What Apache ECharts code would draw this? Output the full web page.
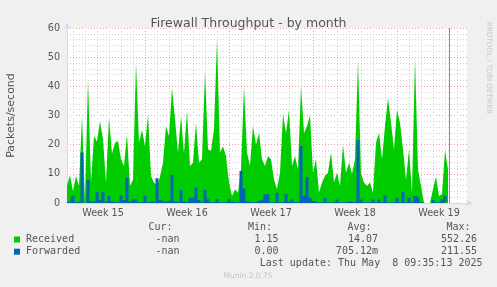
<!DOCTYPE html>
<html>
<head>
<meta charset="utf-8">
<script src="https://cdn.jsdelivr.net/npm/echarts@6/dist/echarts.min.js"></script>
<style>
html,body{margin:0;padding:0;background:#F0F0F0;}
#c{width:497px;height:287px;}
</style>
</head>
<body>
<div id="c"></div>
<script>
// ---- data ----
// samples every 6 hours from the left edge of the month graph
var stepDays = 0.25;
var received = [6,9.5,4,9.3,5.8,29.8,0.5,42.4,7,23,21,28,21.8,7,29.3,17,20.7,21.3,15,12.7,
23.5,5.8,8,48,20.7,25,19.5,30.4,9.3,7,5.8,9,13.8,26.4,23,39.5,28.7,17.3,29.8,17,
31.5,12.7,13.8,27.5,13.8,15,45,18.4,17.8,25.3,56,17.3,19.5,16,7,2.4,4.7,3.5,11.5,40,
17.3,12.7,26.4,20,24,15,12.7,16,15,8,4.7,10.4,30.4,24,32,12.7,16,11.5,40,24,
26.4,30,10.4,15,3.5,7,9.3,10.4,17.3,7,10.4,5.8,20,10.4,13.8,10,15,49,10,7,
5.8,7,3.5,20.7,24,15,26.4,36,27.5,18.4,32,27.5,18.4,8,18.4,3.5,49.8,11.5,5.8,0,
0,0,4.7,9,2.4,3,18,11.5];
var forwarded = [0.5,0.3,2.6,0.3,0.5,17.3,0,7.9,0.5,0.5,3.9,1,3.8,0.5,2.4,0.5,0.3,0.3,2.6,1,
8.7,0.5,1.2,1.2,0.3,0.3,2.4,0.3,0.7,0.2,8.5,1,0.5,0.5,1,9.6,0.5,0.3,4.5,0.5,
0.3,1.8,1.8,5.3,1,0.3,4.5,1.3,0.3,0.3,1.3,0.3,0.3,0.3,1.3,0.5,0.3,0.3,11,5,
0.5,0.3,0.3,0.5,1,1,3,3,0.3,0.3,3.5,0.3,0.5,3,0.5,1.2,0.3,0.3,19.5,2.4,
8.9,1.8,0.7,0.3,0.3,0.3,1.8,0.3,0.3,0.3,1.2,0.3,0.3,0.3,0.7,0.3,0.5,21.6,1.2,0.3,
0.3,0.3,1.2,0.3,1.2,0.3,2.6,0.3,0.3,0.3,1.8,0.3,3.9,0.3,1.8,0.3,2.4,1.8,0.3,0,
0,0,1,0.3,0.3,1.2,2.4,0.5];
var weekLabels = ['Week 15','Week 16','Week 17','Week 18','Week 19'];
var yTicks = [0,10,20,30,40,50,60];
var seriesNames = ['Received','Forwarded'];
var curVals = ['-nan','-nan'];
var minVals = ['1.15','0.00'];
var avgVals = ['14.07','705.12m'];
var maxVals = ['552.26','211.55'];
var lastUpdate = 'Last update: Thu May  8 09:35:13 2025';
var nowDay = 31.86;

// ---- layout constants ----
var spanDays = 400 / 12;
var firstWeekCenter = 3;
var colors = ['#00CC00', '#0066B3'];
var gridColor = '#d2d2d2';
var mgridColor = '#eba0a0';

function toPairs(arr){ return arr.map(function(v,i){ return [i*stepDays, v]; }); }

var vLines = [];
for (var d = 0.5; d < spanDays; d += 1) {
  var major = Math.abs(((d - 6.5) % 7)) < 1e-6;
  vLines.push({xAxis: d, lineStyle: {color: major ? mgridColor : gridColor, type: [1,2], width: 1}});
}

var mono = 'DejaVu Sans Mono';
var txtCol = '#555555';
var graphics = [];
function T(text, x, y, align, extra){
  var s = {text: text, x: x, y: y, textAlign: align || 'left', textVerticalAlign: 'middle',
           fontFamily: mono, fontSize: 10, fill: txtCol};
  if (extra) for (var k in extra) s[k] = extra[k];
  graphics.push({type: 'text', silent: true, style: s});
}
T('Cur:', 172.5, 227.5, 'right');
T('Min:', 272, 227.5, 'right');
T('Avg:', 371.5, 227.5, 'right');
T('Max:', 470.5, 227.5, 'right');
var rowY = [239.5, 251.7];
for (var r = 0; r < seriesNames.length; r++) {
  graphics.push({type: 'rect', silent: true, shape: {x: 14, y: rowY[r] - 3, width: 6, height: 6},
                 style: {fill: colors[r]}});
  T(seriesNames[r], 26, rowY[r], 'left');
  T(curVals[r], 179.5, rowY[r], 'right');
  T(minVals[r], 278.5, rowY[r], 'right');
  T(avgVals[r], 378, rowY[r], 'right');
  T(maxVals[r], 477, rowY[r], 'right');
}
T(lastUpdate, 482.5, 263.5, 'right');
T('Munin 2.0.75', 248, 276.5, 'center', {fontFamily: 'DejaVu Sans', fontSize: 7.5, fill: '#c4c4c4'});
graphics.push({type: 'text', silent: true, x: 488.5, y: 68, rotation: -Math.PI/2,
  style: {text: 'RRDTOOL / TOBI OETIKER', textAlign: 'center', textVerticalAlign: 'middle',
          fontFamily: 'DejaVu Sans', fontSize: 7.2, fill: '#c8c8c8'}});

var chart = echarts.init(document.getElementById('c'), null, {renderer: 'canvas'});
chart.setOption({
  backgroundColor: '#F0F0F0',
  animation: false,
  title: {text: 'Firewall Throughput - by month', left: 'center', top: 12,
    textStyle: {fontFamily: 'DejaVu Sans', fontSize: 12.5, fontWeight: 'normal', color: '#555555'}},
  grid: {left: 67, top: 28, width: 400, height: 175, backgroundColor: '#FFFFFF', show: true, borderWidth: 0,
         containLabel: false, outerBoundsMode: 'none'},
  xAxis: {
    type: 'value', min: 0, max: spanDays, interval: 1,
    axisLine: {lineStyle: {color: '#CFD6F8', width: 1}, symbol: ['none','arrow'], symbolSize: [5,6], symbolOffset: [0,5]},
    axisTick: {show: false},
    splitLine: {show: false},
    axisLabel: {
      margin: 5, fontFamily: 'DejaVu Sans', fontSize: 9.6, color: txtCol,
      showMinLabel: true, showMaxLabel: false, hideOverlap: false,
      formatter: function(v){
        var k = (v - firstWeekCenter) / 7;
        if (Math.abs(k - Math.round(k)) < 1e-6 && k >= 0 && k < weekLabels.length) return weekLabels[Math.round(k)];
        return '';
      }
    }
  },
  yAxis: {
    type: 'value', min: yTicks[0], max: yTicks[yTicks.length-1], interval: 10,
    name: 'Packets/second', nameLocation: 'middle', nameGap: 50,
    nameTextStyle: {fontFamily: 'DejaVu Sans', fontSize: 11, color: txtCol},
    axisLine: {show: true, lineStyle: {color: '#CFD6F8', width: 1}, symbol: ['none','arrow'], symbolSize: [5,6], symbolOffset: [0,5]},
    axisTick: {show: false},
    axisLabel: {margin: 7, fontFamily: 'DejaVu Sans', fontSize: 9.6, color: txtCol},
    splitLine: {show: true, lineStyle: {color: mgridColor, type: [1,2]}},
    minorTick: {show: false, splitNumber: 5},
    minorSplitLine: {show: true, lineStyle: {color: gridColor, type: [1,2]}}
  },
  graphic: graphics,
  series: [
    {type: 'line', data: [[0,0]], z: 1, showSymbol: false, silent: true,
     lineStyle: {opacity: 0},
     markLine: {z: 1, silent: true, symbol: ['none','none'], label: {show: false}, animation: false, data: vLines}},
    {name: seriesNames[0], type: 'line', data: toPairs(received), z: 2, showSymbol: false,
     lineStyle: {width: 0}, areaStyle: {color: colors[0], opacity: 1}},
    {name: seriesNames[1], type: 'line', data: toPairs(forwarded), z: 3, showSymbol: false, step: 'middle',
     lineStyle: {width: 0}, areaStyle: {color: colors[1], opacity: 1},
     markLine: {z: 4, silent: true, symbol: ['none','none'], label: {show: false}, animation: false,
       data: [{xAxis: nowDay, lineStyle: {color: '#888888', type: 'solid', width: 1}}]}}
  ]
});
</script>
</body>
</html>
